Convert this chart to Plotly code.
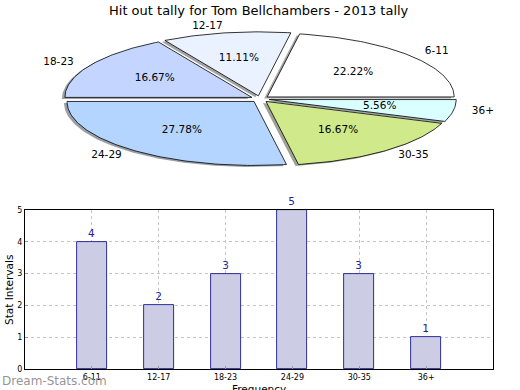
import math
import plotly.graph_objects as go

# ---- data ----
categories = ["6-11", "12-17", "18-23", "24-29", "30-35", "36+"]
counts = [4, 2, 3, 5, 3, 1]
pie_colors = ["#FFFFFF", "#EAF1FF", "#C4D6FF", "#B3D5FF", "#D0EA8B", "#D9FFFF"]
title_text = "Hit out tally for Tom Bellchambers - 2013 tally"
y_ticks = [0, 1, 2, 3, 4, 5]

W, H = 520, 390
FONT = "DejaVu Sans"

# pie geometry (pixel space of top panel)
cx, cy = 260.0, 99.0
rx, ry = 187.0, 64.0
explode = 0.05
shadow_dx, shadow_dy = -3.0, 1.5

fig = go.Figure()

total = sum(counts)
slices = []
start = 0.0
for cat, v, col in zip(categories, counts, pie_colors):
    span = 360.0 * v / total
    end = start + span
    mid = math.radians((start + end) / 2)
    ox = explode * rx * math.cos(mid)
    oy = -explode * ry * math.sin(mid)
    n = max(8, int(span))
    xs = [cx + ox]
    ys = [cy + oy]
    for k in range(n + 1):
        t = math.radians(start + span * k / n)
        xs.append(cx + ox + rx * math.cos(t))
        ys.append(cy + oy - ry * math.sin(t))
    xs.append(cx + ox)
    ys.append(cy + oy)
    slices.append((cat, v, col, xs, ys, mid))
    start = end

def darker(hexc):
    r = int(hexc[1:3], 16); g = int(hexc[3:5], 16); b = int(hexc[5:7], 16)
    return f"rgba({int(r*0.3)},{int(g*0.3)},{int(b*0.3)},0.5)"

# shadows
for cat, v, col, xs, ys, mid in slices:
    fig.add_trace(go.Scatter(
        x=[x + shadow_dx for x in xs], y=[y + shadow_dy for y in ys],
        mode="lines", fill="toself", fillcolor=darker(col),
        line=dict(width=0), xaxis="x2", yaxis="y2", hoverinfo="skip", showlegend=False))
# wedges
for cat, v, col, xs, ys, mid in slices:
    fig.add_trace(go.Scatter(
        x=xs, y=ys, mode="lines", fill="toself", fillcolor=col,
        line=dict(color="black", width=0.8), xaxis="x2", yaxis="y2",
        hoverinfo="skip", showlegend=False))

# labels
for cat, v, col, xs, ys, mid in slices:
    d = 1.1 + explode
    lx = cx + d * rx * math.cos(mid)
    ly = cy - d * ry * math.sin(mid)
    pos = "middle right" if math.cos(mid) > 0 else "middle left"
    fig.add_trace(go.Scatter(x=[lx], y=[ly], mode="text", text=[cat], textposition=pos,
                             textfont=dict(family=FONT, size=10.5, color="black"),
                             xaxis="x2", yaxis="y2", hoverinfo="skip", showlegend=False))
    p = 0.6 + explode
    px = cx + p * rx * math.cos(mid)
    py = cy - p * ry * math.sin(mid)
    fig.add_trace(go.Scatter(x=[px], y=[py], mode="text", text=[f"{100*v/total:.2f}%"],
                             textposition="middle center",
                             textfont=dict(family=FONT, size=10.5, color="black"),
                             xaxis="x2", yaxis="y2", hoverinfo="skip", showlegend=False))

# bar chart
fig.add_trace(go.Bar(
    x=categories, y=counts, width=0.45,
    marker=dict(color="#CCCCE5", line=dict(color="#000080", width=0.8)),
    text=[str(c) for c in counts], textposition="outside",
    textfont=dict(family=FONT, size=10.5, color="#1f1f9f"),
    cliponaxis=False, showlegend=False, hoverinfo="skip"))

x0, x1 = 25 / W, 493 / W
y0, y1 = 1 - 369 / H, 1 - 210 / H

fig.update_layout(
    template="none",
    width=W, height=H, autosize=False, margin=dict(l=0, r=0, t=0, b=0, pad=0, autoexpand=False),
    paper_bgcolor="white", plot_bgcolor="white",
    font=dict(family=FONT, color="black"),
    bargap=0,
    xaxis=dict(domain=[x0, x1], type="category", range=[-1, 6], automargin=False,
               showline=True, mirror=True, linecolor="black", linewidth=1,
               ticks="inside", ticklen=3, tickcolor="#999999",
               showgrid=True, gridcolor="#c4c4c4", griddash="dot", gridwidth=1,
               tickfont=dict(family=FONT, size=8), zeroline=False),
    yaxis=dict(domain=[y0, y1], range=[0, 5], tickvals=y_ticks, automargin=False,
               showline=True, mirror=True, linecolor="black", linewidth=1,
               ticks="inside", ticklen=3, tickcolor="#999999",
               showgrid=True, gridcolor="#c4c4c4", griddash="dot", gridwidth=1,
               tickfont=dict(family=FONT, size=8), zeroline=False),
    xaxis2=dict(domain=[0, 1], range=[0, W], visible=False, fixedrange=True, automargin=False),
    yaxis2=dict(domain=[0.5, 1], range=[H / 2, 0], visible=False, fixedrange=True, automargin=False),
    annotations=[
        dict(text=title_text, x=259 / W, y=1 - 10 / H, xref="paper", yref="paper",
             showarrow=False, font=dict(family=FONT, size=13), xanchor="center", yanchor="middle"),
        dict(text="Stat Intervals", x=9 / W, y=1 - 290 / H, xref="paper", yref="paper",
             showarrow=False, textangle=-90, font=dict(family=FONT, size=10.5),
             xanchor="center", yanchor="middle"),
        dict(text="Frequency", x=259 / W, y=1 - 381 / H, xref="paper", yref="paper",
             showarrow=False, font=dict(family=FONT, size=10.5),
             xanchor="center", yanchor="top"),
        dict(text="Dream-Stats.com", x=0, y=1 - 381 / H, xref="paper", yref="paper",
             showarrow=False, font=dict(family=FONT, size=12, color="rgba(135,135,135,0.9)"),
             xanchor="left", yanchor="middle"),
    ],
)

fig.write_html("out.html", config={"displayModeBar": False},
               post_script="document.body.style.margin='0';document.body.style.overflow='hidden';")
